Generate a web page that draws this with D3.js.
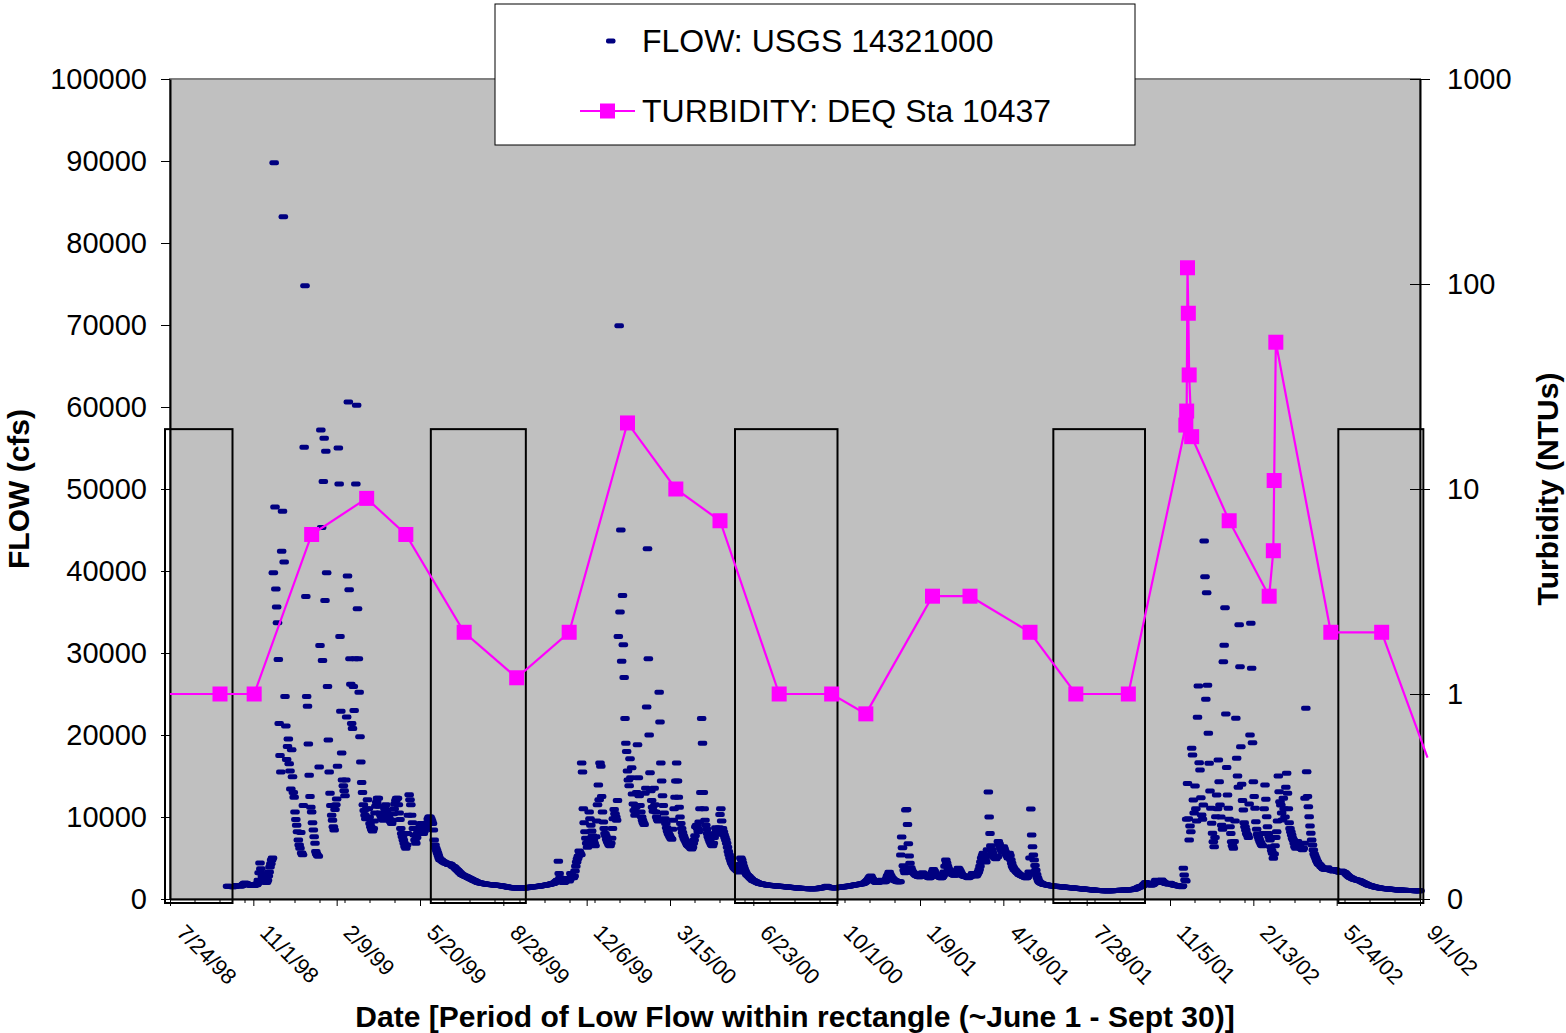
<!DOCTYPE html>
<html lang="en">
<head>
<meta charset="utf-8">
<title>Flow and Turbidity</title>
<script src="https://d3js.org/d3.v7.min.js"></script>
<style>
  body { margin: 0; background: #ffffff; }
  text { font-family: "Liberation Sans", Arial, sans-serif; fill: #000000; }
</style>
</head>
<body>
<div id="chart"></div>
<script>
// ---- data ----
// daily flow (cfs), one row per month, water year starts Oct 1
var flowWY1999 = [
  [1550,1540,1530,1520,1520,1510,1500,1500,1520,1560,1600,1640,1650,1640,1620,1600,1600,1620,1700,1800,1900,1950,1900,1850,1800,1760,1720,1700,1680,1660,1650],
  [1650,1640,1700,1800,1750,1900,2300,3200,4400,3700,3100,2700,2400,2200,2100,2000,2050,2300,2800,3300,3900,4300,4750,5000,39800,89800,47800,37800,35600,33700],
  [29200,21400,17500,15500,42400,47300,83200,41100,24700,21100,17000,18600,19500,16500,15600,13400,18200,14900,13000,12400,10600,9700,9000,8200,7200,6600,6200,8100,5600,5400,11400],
  [55100,74800,36900,24700,23500,18900,15100,12500,11200,10600,9300,8400,7600,6800,5800,5500,5300,5200,16100,30900,57200,45300,29100,50900,56200,36400,54600,39800,25900,19400,15500],
  [12900,11400,10200,9600,8800,8400,10900,11500,12200,16200,55000,50600,32000,22900,17800,14500,13800,13200,12600,14500,22200,39400,60600,37700,29300,26200,21400,20800],
  [25900,23000,29300,50600,60200,35400,29300,25200,19800,16700,14200,13000,11500,10800,10200,9800,11000,12100,11000,10000,9200,8800,8500,8300,8600,9500,10500,11300,11800,12300,12300],
  [11300,10500,10200,10000,9800,9600,10200,11000,11500,10800,10200,10000,9800,9600,9400,9200,9600,10400,11000,11600,12000,12300,12300,11500,10500,9700,8600,8000,7600,7200],
  [6800,6400,6200,6600,8000,10200,12700,12100,11500,10200,9300,8600,7800,7200,6800,7500,8000,8200,8400,8800,9200,8600,8200,8000,8300,8600,8800,8800,9300,9800,10000],
  [10000,9800,9500,9200,8400,7200,6600,6200,5900,5600,5300,5000,4800,4800,4700,4600,4500,4500,4400,4400,4350,4300,4200,4300,4250,4200,4100,4000,3950,3900],
  [3800,3700,3600,3500,3400,3300,3200,3100,3000,2950,2900,2850,2800,2750,2700,2650,2600,2550,2500,2450,2400,2350,2300,2250,2200,2150,2100,2050,2000,1980,1960],
  [1940,1920,1900,1880,1860,1840,1820,1800,1790,1780,1770,1760,1750,1740,1730,1720,1710,1700,1690,1680,1670,1660,1650,1640,1620,1600,1580,1560,1540,1520,1500],
  [1480,1460,1440,1420,1400,1390,1380,1370,1360,1350,1350,1340,1340,1330,1330,1320,1320,1320,1330,1330,1340,1350,1350,1360,1370,1380,1400,1420,1430,1450]
];
var flowWY2000 = [
  [1460,1470,1480,1490,1500,1510,1520,1530,1540,1560,1580,1600,1620,1640,1650,1660,1680,1700,1720,1740,1760,1780,1800,1820,1850,1880,1900,1950,2000,2100,2200],
  [2300,4600,3100,2600,2300,2200,2100,2000,2000,2100,2300,2500,2400,2300,2200,2400,3100,2900,2700,2600,2800,3400,4000,4500,4900,5200,5850,5600,5400,16600],
  [15500,11000,9300,8200,7400,6800,6300,7000,10600,9800,9000,8300,7700,7200,6800,6500,7600,9500,11500,13900,12100,16600,16200,12500,10600,9400,8600,8000,7700,7300,7000],
  [6800,6600,6500,6800,7400,8600,9800,10900,10400,10000,9600,12000,32000,69900,35000,45000,29000,37000,31000,27000,22000,19000,18000,15600,14500,13800,17100,14800,16000,12800,11600],
  [10800,10200,11200,13000,18800,14800,12600,11400,10600,10000,9600,9300,9100,12900,13500,23400,42700,29300,20000,15400,13200,12000,11200,10700,13500,11500,10600,10000,9700],
  [9500,25200,21600,16600,14400,12600,11400,10500,9800,9200,8700,8300,8000,7800,7600,7400,7300,8500,9600,11000,12400,14400,16600,14400,12400,11200,10000,9200,8600,8100,7700],
  [7400,7200,7000,6800,6600,6500,6400,6300,6200,6100,6300,6800,7200,7700,8800,9000,8600,8200,9400,11000,13000,22000,19000,13000,11000,9600,9000,8500,8000,7600],
  [7300,7000,6800,6600,6500,6800,7500,8000,8700,8400,8100,7900,8700,10300,11000,9500,8600,8200,7800,7500,7200,6800,6300,5800,5400,5000,4700,4400,4200,4000,3800],
  [3700,3600,3500,3400,3300,3600,4200,5000,4800,4400,4000,3700,3400,3200,3000,2900,2800,2700,2600,2500,2400,2300,2250,2200,2150,2100,2050,2000,1950,1900],
  [1880,1860,1840,1820,1800,1780,1760,1740,1720,1700,1690,1680,1670,1660,1650,1640,1630,1620,1610,1600,1590,1580,1570,1560,1550,1540,1530,1520,1510,1500,1490],
  [1480,1470,1460,1450,1440,1430,1420,1410,1400,1390,1380,1370,1360,1350,1340,1330,1320,1310,1300,1300,1290,1290,1280,1280,1270,1270,1260,1260,1260,1250,1250],
  [1250,1250,1240,1240,1240,1250,1260,1280,1300,1320,1340,1350,1360,1380,1400,1420,1450,1500,1550,1500,1450,1420,1400,1400,1380,1370,1360,1360,1350,1350]
];
var flowWY2001 = [
  [1400,1400,1410,1420,1430,1440,1450,1460,1470,1480,1500,1520,1540,1550,1560,1580,1600,1620,1640,1660,1680,1700,1720,1740,1750,1760,1780,1800,1820,1840,1850],
  [1850,1900,1950,2000,2100,2200,2300,2400,2600,2700,2800,2600,2400,2300,2200,2100,2050,2000,2000,2050,2100,2200,2300,2250,2200,2150,2100,2100,2200,2500],
  [2800,3000,3250,3000,2800,2600,2500,2400,2300,2250,2200,2150,2100,2100,2100,2110,5370,7560,6260,4060,3500,3200,10850,10900,9100,6750,5240,4350,3800,3500,3300],
  [3200,3100,3000,2900,2850,2800,2750,2700,2700,2800,3000,3200,3100,3000,2900,2800,2750,2700,2650,2600,2600,2700,2900,3300,3600,3400,3200,3000,2900,2800,2750],
  [2700,2650,2600,2600,2700,2900,3300,4000,4750,4400,4000,3700,3500,3300,3200,3100,3000,2950,2900,2900,3000,3200,3500,3740,3600,3400,3200,3000],
  [2900,2800,2800,2750,2700,2700,2650,2600,2650,2700,2800,2900,3100,3000,2900,2850,2800,2900,3100,3300,3600,4000,4500,5000,5300,5570,5200,4800,4500,5200,6000],
  [13050,10000,8000,6500,6000,5600,5300,5100,5000,4900,5200,5160,7000,6700,6400,6100,5900,5700,6380,6100,5800,5600,5400,5200,5000,5570,5300,4800,4350,4000],
  [3800,3600,3540,3400,3300,3200,3100,3000,2950,2900,2850,2800,2750,2700,2650,2600,2600,2700,2900,3300,5000,10980,7800,6380,5370,4750,4100,3500,3000,2600,2300],
  [2100,2000,1950,1900,1850,1800,1780,1760,1740,1720,1700,1680,1660,1640,1620,1600,1590,1580,1570,1560,1550,1540,1530,1520,1510,1500,1490,1480,1470,1460],
  [1450,1440,1430,1420,1410,1400,1390,1380,1370,1360,1350,1340,1330,1320,1310,1300,1290,1280,1270,1260,1250,1240,1230,1220,1210,1200,1190,1180,1170,1160,1150],
  [1140,1130,1120,1110,1100,1090,1080,1070,1060,1050,1050,1040,1040,1030,1030,1020,1020,1010,1010,1010,1000,1000,1000,1000,1000,1010,1010,1020,1020,1030,1030],
  [1040,1040,1050,1050,1060,1060,1070,1070,1080,1080,1090,1090,1100,1100,1110,1110,1120,1130,1140,1150,1160,1180,1200,1230,1260,1300,1350,1400,1450,1500]
];
var flowWY2002 = [
  [1500,1550,1600,1700,1800,1900,2000,1950,1900,1850,1800,1750,1700,1700,1750,1800,1900,2100,2300,2250,2200,2100,2050,2000,2100,2320,2200,2100,2000,1950,1900],
  [1880,1860,1840,1820,1910,1850,1800,1760,1720,1700,1680,1660,1640,1620,1600,1580,1550,1520,1500,1600,3740,2930,2320,2200,9720,14100,9800,7200,8900,8210],
  [18370,17560,12070,10500,13780,11000,9500,22160,25980,16620,15730,12350,10240,9720,11460,43660,39300,24350,37360,26060,20200,16540,13170,11060,9230,8010,6990,6380,7500,10040,12680],
  [11000,16950,14300,11460,10000,9000,8500,28940,30940,35520,22560,16050,12680,11060,9720,8820,8000,6990,6500,6180,7000,9500,22040,17150,15000,13620,33450,28330,18570,14000,12000],
  [10850,9300,8800,8410,8000,7800,7500,11590,20000,33620,28130,19060,14300,12500,11060,9430,8500,7900,7600,7300,7000,6800,6600,6500,8000,11000,13900,12160],
  [10040,8820,8000,7600,7200,6380,5900,5570,4960,5500,6500,7500,8210,9500,15000,13090,11870,11460,10500,9630,12280,11000,10000,13620,15330,12890,11000,9300,8600,8210,7800],
  [7400,7200,6800,6380,6200,6500,7000,6800,6500,6300,6200,6100,6000,6200,6800,12280,23250,15520,12500,11250,10040,8900,8010,7200,6600,5980,5500,5200,4960,4700],
  [4500,4300,4200,4150,4000,3900,3800,3700,3650,3620,3600,3700,3800,3700,3600,3550,3540,3500,3450,3400,3500,3600,3500,3400,3350,3330,3300,3250,3300,3400,3350],
  [3300,3250,3200,3100,3000,2900,2800,2720,2650,2600,2550,2500,2450,2400,2380,2350,2320,2300,2280,2250,2200,2150,2100,2050,2000,1950,1900,1850,1800,1750],
  [1710,1680,1650,1620,1590,1560,1530,1500,1470,1440,1420,1400,1380,1360,1340,1320,1300,1290,1280,1270,1260,1250,1240,1230,1220,1210,1200,1190,1180,1170,1160],
  [1150,1140,1130,1120,1110,1100,1100,1090,1090,1080,1080,1070,1070,1060,1060,1050,1050,1050,1040,1040,1040,1030,1030,1030,1020,1020,1020,1010,1010,1010,1010],
  [1000]
];

// turbidity samples (NTU)
var turbDates = ["6/1/98","9/22/98","11/2/98","1/10/99","3/17/99","5/3/99","7/12/99","9/13/99","11/15/99",
  "1/24/00","3/22/00","5/14/00","7/24/00","9/25/00","11/5/00","1/24/01","3/10/01","5/21/01","7/15/01","9/16/01",
  "11/24/01","11/25/01","11/26/01","11/27/01","11/28/01","12/1/01","1/15/02","3/4/02","3/9/02","3/10/02","3/12/02",
  "5/17/02","7/17/02","9/10/02"];
var turbValues = [1,1,1,6,9,6,2,1.2,2,
  21,10,7,1,1,0.8,3,3,2,1,1,
  20.5,24,120,72,36,18,7,3,5,11,52,
  2,2,0.49];

// low flow periods (rectangles)
var lowFlowStart = ["7/18/98","6/2/99","6/1/00","6/18/01","5/26/02"];
var lowFlowEnd   = ["10/7/98","9/24/99","10/2/00","10/6/01","9/5/02"];

var xTickLabels = ["7/24/98","11/1/98","2/9/99","5/20/99","8/28/99","12/6/99","3/15/00","6/23/00",
  "10/1/00","1/9/01","4/19/01","7/28/01","11/5/01","2/13/02","5/24/02","9/1/02"];
var flowTicks = [0,10000,20000,30000,40000,50000,60000,70000,80000,90000,100000];
var turbTicks = [0.1,1,10,100,1000];

// ---- chart ----
var plotL = 170, plotR = 1420, plotT = 79, plotB = 899;
var font = "Liberation Sans, Arial, sans-serif";
var parse = d3.timeParse("%m/%d/%y");

var svg = d3.select("#chart").append("svg")
    .attr("width", 1566)
    .attr("height", 1033)
    .style("background", "#ffffff");

var tickDates = xTickLabels.map(parse);
var x = d3.scaleTime()
    .domain([tickDates[0], tickDates[tickDates.length - 1]])
    .range([plotL, plotR]);
var y = d3.scaleLinear().domain([0, 100000]).range([plotB, plotT]);
var y2 = d3.scaleLog().domain([0.1, 1000]).range([plotB, plotT]);

function expand(rows, startYear) {
  var out = [];
  rows.forEach(function(row, k) {
    row.forEach(function(v, j) {
      out.push({date: new Date(startYear, 9 + k, 1 + j), value: v});
    });
  });
  return out;
}
var flow = [].concat(expand(flowWY1999, 1998), expand(flowWY2000, 1999),
                     expand(flowWY2001, 2000), expand(flowWY2002, 2001));
var turb = turbDates.map(function(d, i) { return {date: parse(d), value: turbValues[i]}; });

// plot area
svg.append("rect")
    .attr("x", plotL).attr("y", plotT)
    .attr("width", plotR - plotL).attr("height", plotB - plotT)
    .attr("fill", "#c0c0c0")
    .attr("stroke", "#808080")
    .attr("stroke-width", 2);

// flow dashes
svg.append("g").selectAll("rect")
  .data(flow)
  .join("rect")
    .attr("x", function(d) { return x(d.date) - 4.75; })
    .attr("y", function(d) { return y(d.value) - 2.5; })
    .attr("width", 9.5)
    .attr("height", 5)
    .attr("rx", 2)
    .attr("fill", "#000080");

// low flow rectangles
var rectTop = y(57300);
svg.append("g").selectAll("rect")
  .data(lowFlowStart)
  .join("rect")
    .attr("x", function(d) { return x(parse(d)); })
    .attr("y", rectTop)
    .attr("width", function(d, i) { return x(parse(lowFlowEnd[i])) - x(parse(d)); })
    .attr("height", plotB + 4 - rectTop)
    .attr("fill", "none")
    .attr("stroke", "#000000")
    .attr("stroke-width", 2);

// left axis
var gL = svg.append("g")
    .attr("transform", "translate(" + plotL + ",0)")
    .call(d3.axisLeft(y).tickValues(flowTicks).tickSize(9).tickSizeOuter(0)
          .tickPadding(14).tickFormat(d3.format("d")));
gL.attr("font-family", font).attr("font-size", 29);
gL.select(".domain").attr("stroke-width", 2);

// right axis
var gR = svg.append("g")
    .attr("transform", "translate(" + plotR + ",0)")
    .call(d3.axisRight(y2).tickValues(turbTicks).tickSize(10).tickSizeOuter(0)
          .tickPadding(17).tickFormat(function(d) { return d < 1 ? "0" : d; }));
gR.attr("font-family", font).attr("font-size", 29);
gR.select(".domain").attr("stroke-width", 2);
gR.selectAll(".tick line").attr("x1", -10);

// bottom axis
var gB = svg.append("g")
    .attr("transform", "translate(0," + plotB + ")")
    .call(d3.axisBottom(x).tickValues(tickDates).tickSize(7).tickSizeOuter(0)
          .tickFormat(function(d, i) { return xTickLabels[i]; }));
gB.attr("font-family", font).attr("font-size", 22);
gB.select(".domain").attr("stroke-width", 2);
gB.selectAll(".tick text")
    .attr("y", 0).attr("dy", 0)
    .attr("text-anchor", "start")
    .attr("transform", "translate(5,35) rotate(45)");

// minor ticks every 30 days
var minor = d3.range(30, 1500, 30).filter(function(k) { return k % 100 !== 0; })
    .map(function(k) { return d3.timeDay.offset(tickDates[0], k); });
svg.append("g").selectAll("line")
  .data(minor)
  .join("line")
    .attr("x1", function(d) { return x(d); })
    .attr("x2", function(d) { return x(d); })
    .attr("y1", plotB)
    .attr("y2", plotB + 4)
    .attr("stroke", "#000000");

// turbidity line
svg.append("clipPath").attr("id", "clip")
  .append("rect").attr("x", plotL).attr("y", 0).attr("width", plotR + 10 - plotL).attr("height", plotB);

var line = d3.line()
    .x(function(d) { return x(d.date); })
    .y(function(d) { return y2(d.value); });
svg.append("path")
    .datum(turb)
    .attr("clip-path", "url(#clip)")
    .attr("d", line)
    .attr("fill", "none")
    .attr("stroke", "#ff00ff")
    .attr("stroke-width", 2.2);

svg.append("g").selectAll("rect")
  .data(turb.filter(function(d) { return d.date >= x.domain()[0] && d.date <= x.domain()[1]; }))
  .join("rect")
    .attr("x", function(d) { return x(d.date) - 7.5; })
    .attr("y", function(d) { return y2(d.value) - 7.5; })
    .attr("width", 15)
    .attr("height", 15)
    .attr("fill", "#ff00ff");

// legend
var lg = svg.append("g");
lg.append("rect")
    .attr("x", 495).attr("y", 4).attr("width", 640).attr("height", 141)
    .attr("fill", "#ffffff").attr("stroke", "#000000").attr("stroke-width", 1);
lg.append("rect")
    .attr("x", 606).attr("y", 38.5).attr("width", 9.5).attr("height", 5).attr("rx", 2)
    .attr("fill", "#000080");
lg.append("text").attr("x", 642).attr("y", 52).attr("font-size", 32)
    .text("FLOW: USGS 14321000");
lg.append("line")
    .attr("x1", 580).attr("x2", 635).attr("y1", 111).attr("y2", 111)
    .attr("stroke", "#ff00ff").attr("stroke-width", 2.2);
lg.append("rect")
    .attr("x", 600).attr("y", 103.5).attr("width", 15).attr("height", 15)
    .attr("fill", "#ff00ff");
lg.append("text").attr("x", 642).attr("y", 122).attr("font-size", 32)
    .text("TURBIDITY: DEQ Sta 10437");

// axis titles
svg.append("text")
    .attr("transform", "translate(29,489) rotate(-90)")
    .attr("text-anchor", "middle")
    .attr("font-size", 30).attr("font-weight", "bold")
    .text("FLOW (cfs)");
svg.append("text")
    .attr("transform", "translate(1558,489) rotate(-90)")
    .attr("text-anchor", "middle")
    .attr("font-size", 30).attr("font-weight", "bold")
    .text("Turbidity (NTUs)");
svg.append("text")
    .attr("x", 795).attr("y", 1027)
    .attr("text-anchor", "middle")
    .attr("font-size", 30).attr("font-weight", "bold")
    .text("Date [Period of Low Flow within rectangle (~June 1 - Sept 30)]");
</script>
</body>
</html>
